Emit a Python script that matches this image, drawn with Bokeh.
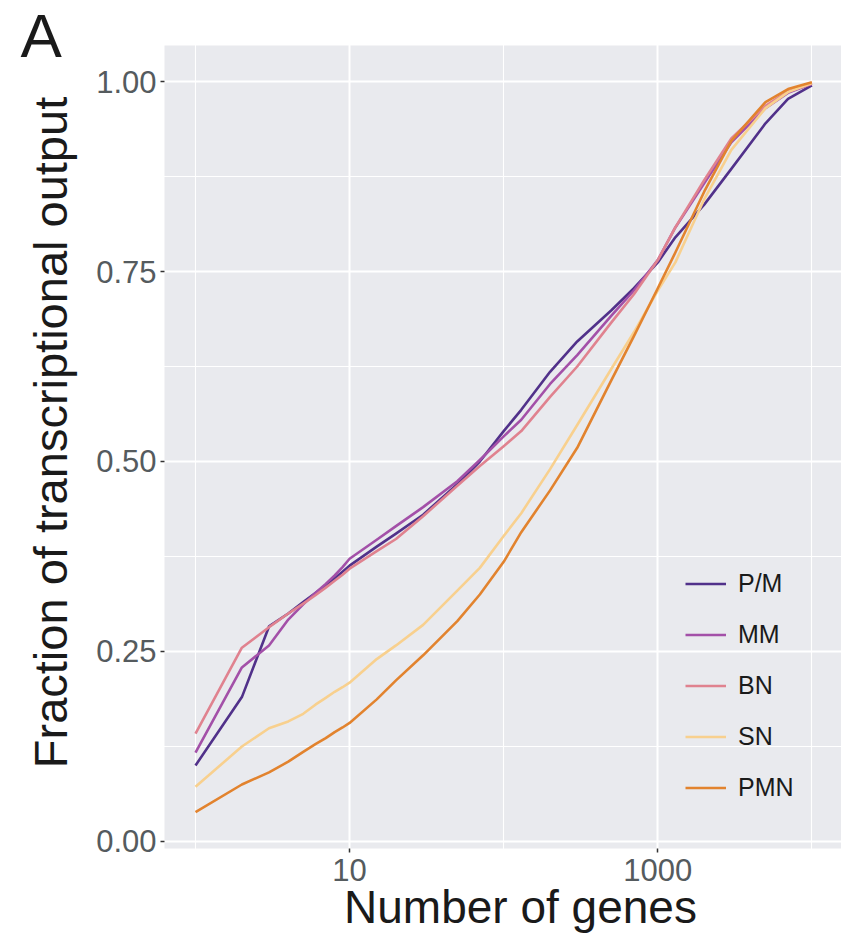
from math import pi
from bokeh.plotting import figure
from bokeh.models import (Range1d, FixedTicker, PrintfTickFormatter, Legend,
                          LegendItem, Label, BoxAnnotation)
from bokeh.embed import file_html
from bokeh.resources import INLINE

# ---- data ----
n_genes = [1, 2, 3, 4, 5, 6, 7, 8, 9, 10, 15, 20, 30, 50, 70, 100, 130, 200,
           300, 500, 700, 1000, 1300, 2000, 3000, 5000, 7000, 10000]

pm = [.100, .190, .283, .300, .315, .327, .337, .346, .355, .363, .388, .405,
      .430, .470, .500, .540, .568, .618, .658, .699, .728, .762, .795, .838,
      .885, .945, .977, .995]
mm = [.117, .229, .258, .292, .312, .327, .339, .350, .361, .372, .397, .415,
      .440, .474, .502, .533, .555, .602, .640, .692, .725, .765, .808, .866,
      .920, .965, .985, .997]
bn = [.142, .255, .282, .300, .313, .324, .334, .343, .351, .359, .382, .398,
      .428, .468, .494, .520, .540, .585, .625, .683, .720, .765, .808, .870,
      .925, .968, .987, .997]
sn = [.072, .125, .149, .158, .168, .180, .189, .197, .203, .209, .240, .258,
      .285, .330, .360, .402, .432, .490, .548, .622, .670, .725, .762, .845,
      .910, .965, .986, .998]
pmn = [.0386, .075, .091, .105, .118, .128, .136, .144, .150, .156, .187, .212,
       .245, .290, .325, .368, .407, .462, .518, .607, .665, .728, .775, .855,
       .922, .973, .990, .999]

series_names = ["P/M", "MM", "BN", "SN", "PMN"]
series_values = [pm, mm, bn, sn, pmn]
series_colors = ["#51318a", "#a350a8", "#e0828f", "#f8d08e", "#e2832e"]

x_major_ticks = [10, 1000]
x_minor_ticks = [1, 100, 10000]
x_tick_labels = ["10", "1000"]
y_major_ticks = [0.0, 0.25, 0.5, 0.75, 1.0]
y_minor_ticks = [0.125, 0.375, 0.625, 0.875]

FONT = "Liberation Sans"

# panel (grey area) limits in data units, and the full canvas range around it
PANEL_X0 = 10 ** -0.2012
PANEL_Y0, PANEL_Y1 = -0.0092, 1.0474

p = figure(width=841, height=934, x_axis_type="log",
           x_range=Range1d(10 ** -1.2654, 10 ** 4.1921),
           y_range=Range1d(-0.12237, 1.10658),
           output_backend="svg", toolbar_location=None, title=None,
           min_border_left=0, min_border_top=0, min_border_bottom=0,
           min_border_right=0)
p.background_fill_color = "white"
p.border_fill_color = "white"
p.outline_line_color = None

# grey panel
p.add_layout(BoxAnnotation(left=PANEL_X0, bottom=PANEL_Y0, top=PANEL_Y1,
                           fill_color="#e9eaee", fill_alpha=1,
                           line_color=None, level="image"))

renderers = []
for name, vals, col in zip(series_names, series_values, series_colors):
    r = p.line(n_genes, vals, line_color=col, line_width=2.6,
               line_join="round")
    renderers.append(r)

# axes (drawn at the panel edges)
p.xaxis.fixed_location = PANEL_Y0
p.yaxis.fixed_location = PANEL_X0
p.xaxis.ticker = FixedTicker(ticks=x_major_ticks, minor_ticks=x_minor_ticks)
p.xaxis.major_label_overrides = {t: l for t, l in zip(x_major_ticks, x_tick_labels)}
p.yaxis.ticker = FixedTicker(ticks=y_major_ticks, minor_ticks=y_minor_ticks)
p.yaxis.formatter = PrintfTickFormatter(format="%.2f")
for ax in (p.xaxis, p.yaxis):
    ax.axis_line_color = None
    ax.minor_tick_line_color = None
    ax.major_tick_line_color = "#333333"
    ax.major_tick_line_width = 1.5
    ax.major_tick_out = 4
    ax.major_tick_in = 0
    ax.major_label_text_font = FONT
    ax.major_label_text_font_size = "31px"
    ax.major_label_text_color = "#555b5e"
p.xaxis.major_label_standoff = 7
p.yaxis.major_label_standoff = 4

# grid (white on white outside the panel, so only visible on the panel)
for g in (p.xgrid, p.ygrid):
    g.grid_line_color = "white"
    g.grid_line_width = 2
    g.minor_grid_line_color = "white"
    g.minor_grid_line_width = 1.1

# legend
legend = Legend(items=[LegendItem(label=nm, renderers=[r])
                       for nm, r in zip(series_names, renderers)],
                location=(685, 121.5))
legend.background_fill_alpha = 0
legend.border_line_color = None
legend.padding = 0
legend.margin = 0
legend.spacing = 0
legend.glyph_width = 41
legend.glyph_height = 51
legend.label_height = 51
legend.label_standoff = 12
legend.label_text_font = FONT
legend.label_text_font_size = "25px"
legend.label_text_color = "#1a1a1a"
legend.label_text_baseline = "middle"
p.add_layout(legend)

# axis titles and panel letter
p.add_layout(Label(x=50, y=502, x_units="screen", y_units="screen",
                   text="Fraction of transcriptional output", angle=pi / 2,
                   text_align="center", text_baseline="alphabetic",
                   text_font=FONT, text_font_size="47px",
                   text_color="#1a1a1a"))
p.add_layout(Label(x=520, y=28, x_units="screen", y_units="screen",
                   text="Number of genes", text_align="center",
                   text_baseline="alphabetic", text_font=FONT,
                   text_font_size="46px", text_color="#1a1a1a"))
p.add_layout(Label(x=20, y=899, x_units="screen", y_units="screen",
                   text="A", text_align="left", text_baseline="alphabetic",
                   text_font=FONT, text_font_size="62px",
                   text_color="#1a1a1a"))

open("out.html", "w").write(file_html(p, INLINE))
